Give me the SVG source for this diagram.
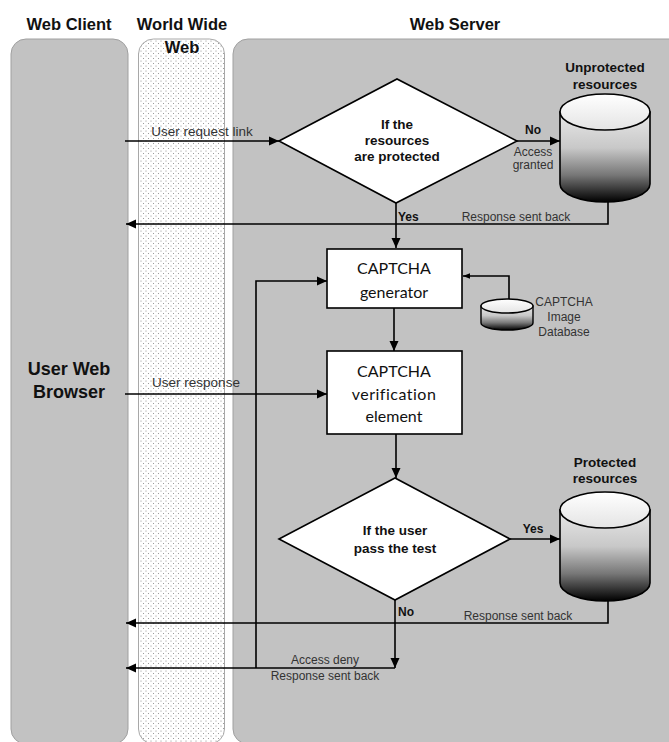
<svg xmlns="http://www.w3.org/2000/svg" width="669" height="742" viewBox="0 0 669 742">
  <style>
    .title { font-family: "Liberation Sans", Arial, sans-serif; font-weight: bold; font-size: 16.5px; fill: #111; text-anchor: middle; }
    .actor { font-family: "Liberation Sans", Arial, sans-serif; font-weight: bold; font-size: 18px; fill: #111; text-anchor: middle; }
    .dlab { font-family: "Liberation Sans", Arial, sans-serif; font-weight: bold; font-size: 13.5px; fill: #111; text-anchor: middle; }
    .yn { font-family: "Liberation Sans", Arial, sans-serif; font-weight: bold; font-size: 12px; fill: #111; }
    .lab { font-family: "Liberation Sans", Arial, sans-serif; font-size: 12px; fill: #333; text-anchor: middle; }
    .big { font-family: "Liberation Sans", Arial, sans-serif; font-size: 13.5px; fill: #333; text-anchor: middle; }
    .box { font-family: Lato, "Open Sans", sans-serif; font-size: 16px; fill: #111; text-anchor: middle; }
    .lane { fill: #c2c2c2; stroke: #a0a0a0; stroke-width: 1; }
    .shape { fill: #fff; stroke: #000; stroke-width: 1.6; }
    .conn { fill: none; stroke: #000; stroke-width: 1.6; }
  </style>
  <defs>
    <pattern id="dots" width="5" height="5" patternUnits="userSpaceOnUse">
      <rect width="5" height="5" fill="#fff"/>
      <circle cx="1" cy="1" r="0.55" fill="#8a8a8a"/>
      <circle cx="3.5" cy="3.5" r="0.55" fill="#8a8a8a"/>
    </pattern>
    <linearGradient id="cylBody" x1="0" y1="0" x2="0" y2="1">
      <stop offset="0" stop-color="#e8e8e8"/>
      <stop offset="0.4" stop-color="#c8c8c8"/>
      <stop offset="0.7" stop-color="#777"/>
      <stop offset="1" stop-color="#000"/>
    </linearGradient>
    <linearGradient id="cylTop" x1="0" y1="0" x2="0" y2="1">
      <stop offset="0" stop-color="#fff"/>
      <stop offset="1" stop-color="#e4e4e4"/>
    </linearGradient>
    <marker id="arr" viewBox="0 0 10 10" refX="10" refY="5" markerWidth="10" markerHeight="10" markerUnits="userSpaceOnUse" orient="auto">
      <path d="M0,0.5 L10,5 L0,9.5 Z" fill="#000"/>
    </marker>
    <marker id="arrS" viewBox="0 0 10 10" refX="10" refY="5" markerWidth="7" markerHeight="7" markerUnits="userSpaceOnUse" orient="auto">
      <path d="M0,1 L10,5 L0,9 Z" fill="#000"/>
    </marker>
  </defs>

  <rect width="669" height="742" fill="#fff"/>

  <!-- swimlanes -->
  <g id="lane-client">
    <rect class="lane" x="11" y="39" width="117" height="705" rx="15"/>
    <text class="title" x="69" y="30">Web Client</text>
    <text class="actor" x="69" y="375">User Web</text>
    <text class="actor" x="69" y="398">Browser</text>
  </g>
  <g id="lane-www">
    <rect x="138.5" y="39" width="86" height="705" rx="15" fill="url(#dots)" stroke="#a8a8a8" stroke-width="1"/>
    <text class="title" x="182" y="30">World Wide</text>
    <text class="title" x="182" y="53">Web</text>
  </g>
  <g id="lane-server">
    <rect class="lane" x="233" y="39" width="460" height="705" rx="15"/>
    <text class="title" x="455" y="30">Web Server</text>
  </g>

  <!-- connectors -->
  <g id="connectors">
    <path class="conn" d="M125,141 H279" marker-end="url(#arr)"/>
    <text class="big" x="202" y="136">User request link</text>

    <path class="conn" d="M517,141 H560" marker-end="url(#arr)"/>
    <text class="yn" x="533" y="134" text-anchor="middle">No</text>
    <text class="lab" x="533" y="156">Access</text>
    <text class="lab" x="533" y="169">granted</text>

    <path class="conn" d="M608,202 V224 H126" marker-end="url(#arr)"/>
    <text class="lab" x="516" y="221">Response sent back</text>

    <path class="conn" d="M396,203 V248" marker-end="url(#arr)"/>
    <text class="yn" x="398" y="221">Yes</text>

    <path class="conn" d="M509,300 V276 H463" marker-end="url(#arrS)"/>

    <path class="conn" d="M394,308 V351" marker-end="url(#arr)"/>

    <path class="conn" d="M125,394 H327" marker-end="url(#arr)"/>
    <text class="big" x="196" y="387">User response</text>

    <path class="conn" d="M396,434 V478" marker-end="url(#arr)"/>

    <path class="conn" d="M510,539 H560" marker-end="url(#arr)"/>
    <text class="yn" x="533" y="533" text-anchor="middle">Yes</text>

    <path class="conn" d="M608,601 V623 H126" marker-end="url(#arr)"/>
    <text class="lab" x="518" y="620">Response sent back</text>

    <path class="conn" d="M395,600 V668" marker-end="url(#arr)"/>
    <text class="yn" x="398" y="616">No</text>
    <path class="conn" d="M395,668 H126" marker-end="url(#arr)"/>
    <text class="lab" x="325" y="664">Access deny</text>
    <text class="lab" x="325" y="680">Response sent back</text>

    <path class="conn" d="M256,668 V281 H327" marker-end="url(#arr)"/>
  </g>

  <!-- decision: are resources protected -->
  <g id="decision-protected">
    <polygon class="shape" points="279,141 397,79 517,141 396,203"/>
    <text class="dlab" x="397" y="129">If the</text>
    <text class="dlab" x="397" y="145">resources</text>
    <text class="dlab" x="397" y="161">are protected</text>
  </g>

  <!-- unprotected resources store -->
  <g id="store-unprotected">
    <path d="M560,112 V184 A45,18 0 0 0 650,184 V112 Z" fill="url(#cylBody)" stroke="#000" stroke-width="1.6"/>
    <ellipse cx="605" cy="112" rx="45" ry="18" fill="url(#cylTop)" stroke="#000" stroke-width="1.6"/>
    <text class="dlab" x="605" y="72">Unprotected</text>
    <text class="dlab" x="605" y="89">resources</text>
  </g>

  <!-- captcha generator -->
  <g id="captcha-generator">
    <rect class="shape" x="327" y="249" width="135" height="59"/>
    <text class="box" x="394" y="274">CAPTCHA</text>
    <text class="box" x="394" y="298">generator</text>
  </g>

  <!-- captcha image database -->
  <g id="captcha-db">
    <path d="M481,306 V323 A26,7 0 0 0 533,323 V306 Z" fill="url(#cylBody)" stroke="#000" stroke-width="1.4"/>
    <ellipse cx="507" cy="306" rx="26" ry="7" fill="url(#cylTop)" stroke="#000" stroke-width="1.4"/>
    <text class="lab" x="564" y="306">CAPTCHA</text>
    <text class="lab" x="564" y="321">Image</text>
    <text class="lab" x="564" y="336">Database</text>
  </g>

  <!-- captcha verification -->
  <g id="captcha-verification">
    <rect class="shape" x="327" y="351" width="135" height="83"/>
    <text class="box" x="394" y="377">CAPTCHA</text>
    <text class="box" x="394" y="400" letter-spacing="0.5">verification</text>
    <text class="box" x="394" y="422">element</text>
  </g>

  <!-- decision: user passes test -->
  <g id="decision-pass">
    <polygon class="shape" points="279,539 395,478 510,539 395,600"/>
    <text class="dlab" x="395" y="535">If the user</text>
    <text class="dlab" x="395" y="553">pass the test</text>
  </g>

  <!-- protected resources store -->
  <g id="store-protected">
    <path d="M560,510 V583 A45,18 0 0 0 650,583 V510 Z" fill="url(#cylBody)" stroke="#000" stroke-width="1.6"/>
    <ellipse cx="605" cy="510" rx="45" ry="18" fill="url(#cylTop)" stroke="#000" stroke-width="1.6"/>
    <text class="dlab" x="605" y="467">Protected</text>
    <text class="dlab" x="605" y="483">resources</text>
  </g>
</svg>
